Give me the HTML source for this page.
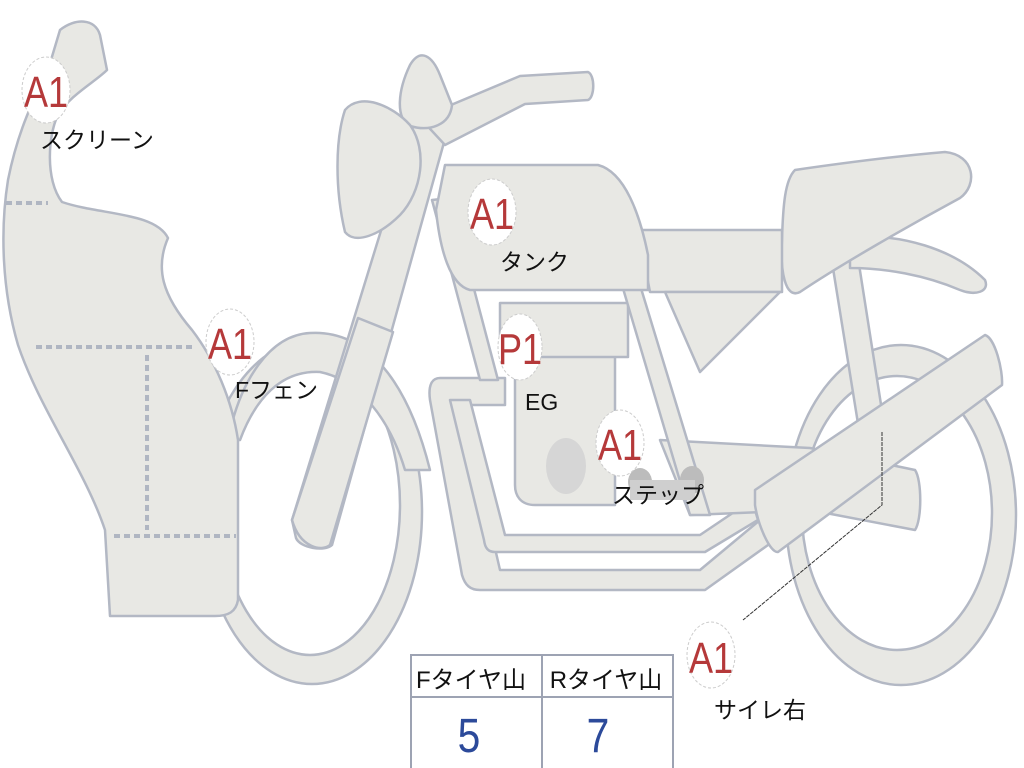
<!DOCTYPE html>
<html><head><meta charset="utf-8"><style>
html,body{margin:0;padding:0;background:#fff;width:1024px;height:768px;overflow:hidden}
svg{display:block}
.s{fill:#e8e8e4;stroke:#b3b8c4;stroke-width:2.5;stroke-linejoin:round}
.d{stroke:#b0b6c2;stroke-width:4;stroke-dasharray:6 4;fill:none}
.c{fill:#fff;stroke:#ccc;stroke-width:1;stroke-dasharray:3 2}
.a{font-family:"Liberation Sans",sans-serif;font-size:44px;fill:#b5393a;text-anchor:middle}
.l{font-family:"Liberation Sans","Noto Sans CJK JP",sans-serif;font-size:23px;fill:#111}
.h{font-family:"Liberation Sans","Noto Sans CJK JP",sans-serif;font-size:24px;fill:#111;text-anchor:middle}
.n{font-family:"Liberation Sans",sans-serif;font-size:48px;fill:#2c4a9a;text-anchor:middle}
</style></head><body>
<svg width="1024" height="768" viewBox="0 0 1024 768">
<ellipse class="s" cx="901" cy="515" rx="115" ry="170"/>
<ellipse cx="897" cy="513" rx="95" ry="137" fill="#fff" stroke="#b3b8c4" stroke-width="2.5"/>
<ellipse class="s" cx="312" cy="512" rx="110" ry="172"/>
<ellipse cx="310" cy="505" rx="90" ry="150" fill="#fff" stroke="#b3b8c4" stroke-width="2.5"/>
<path class="s" d="M228,440 C240,380 270,335 310,333 C360,330 405,370 430,470 L405,470 C390,420 360,380 320,372 C280,370 255,400 240,440 Z"/>
<path class="s" d="M832,262 L858,258 L885,430 L860,436 Z"/>
<path class="s" d="M850,238 C900,232 955,250 985,280 C990,292 975,296 960,290 C925,275 885,268 850,268 Z"/>
<path class="s" d="M795,170 C850,162 910,155 945,152 C975,155 978,185 960,198 C910,225 840,265 800,292 C785,300 780,270 782,240 C783,205 785,180 795,170 Z"/>
<path class="s" d="M638,230 L782,230 L782,292 L650,292 Z"/>
<path class="s" d="M665,292 L780,292 L700,372 Z"/>
<path class="s" d="M440,378 L505,378 L505,405 L462,405 L500,570 L700,570 L760,520 L775,540 L705,590 L480,590 C470,590 465,585 462,575 L430,400 C428,385 432,378 440,378 Z"/>
<path class="s" d="M450,400 L470,400 L505,535 L700,535 L752,500 L758,520 L705,552 L495,552 C488,552 485,548 484,540 Z"/>
<path class="s" d="M660,440 L810,448 L915,470 C922,480 922,520 915,530 L810,510 L690,515 Z"/>
<path class="s" d="M515,355 L615,355 L615,505 L535,505 C520,505 515,495 515,485 Z"/>
<path class="s" d="M500,303 L628,303 L628,357 L500,357 Z"/>
<ellipse cx="566" cy="466" rx="20" ry="28" fill="#d6d6d6"/>
<path class="s" d="M432,200 L450,198 L498,380 L480,380 Z"/>
<path class="s" d="M622,285 L640,285 L710,515 L690,515 Z"/>
<path class="s" d="M445,165 L598,165 C625,172 640,215 648,255 L648,290 L470,290 C450,285 440,250 436,210 Z"/>
<path class="s" d="M415,120 L448,128 L332,545 C325,552 300,548 296,538 L292,520 Z"/>
<path class="s" d="M358,318 L393,332 L330,545 C322,552 300,548 292,520 Z"/>
<path class="s" d="M420,118 L520,76 L588,72 C595,75 595,97 588,100 L525,104 L445,145 Z"/>
<path class="s" d="M410,65 C420,48 432,55 440,75 L452,105 C450,125 430,132 410,126 C395,118 398,90 410,65 Z"/>
<path class="s" d="M345,110 C360,92 392,105 410,125 C428,150 422,192 400,215 C380,235 355,245 345,232 C335,190 335,140 345,110 Z"/>
<path class="s" d="M755,490 L985,335 C995,338 1003,370 1002,385 L778,552 C770,553 758,525 755,505 Z"/>
<path class="s" d="M60,30 C75,18 95,18 100,35 L107,70 C95,82 70,95 58,115 C48,135 45,180 62,202 C100,215 155,212 168,238 C155,268 162,295 192,330 C215,360 232,400 238,440 L238,600 C236,612 228,616 215,616 L110,616 L105,530 C85,470 40,410 18,345 C2,290 0,230 8,180 C18,130 35,95 45,80 Z"/>
<line class="d" x1="6" y1="203" x2="48" y2="203"/>
<line class="d" x1="36" y1="347" x2="192" y2="347"/>
<line class="d" x1="147" y1="355" x2="147" y2="530"/>
<line class="d" x1="114" y1="536" x2="236" y2="536"/>
<ellipse cx="640" cy="482" rx="12" ry="14" fill="#bcbcbc"/>
<ellipse cx="692" cy="480" rx="12" ry="14" fill="#bcbcbc"/>
<rect x="630" y="480" width="65" height="20" fill="#cfcfcf"/>
<path d="M882,432 L882,505 L743,620" fill="none" stroke="#333" stroke-width="1" stroke-dasharray="4 1"/>
<ellipse class="c" cx="46" cy="90" rx="24" ry="33"/><text class="a" transform="translate(46,107) scale(0.82,1)">A1</text>
<text class="l" x="40" y="148">スクリーン</text>
<ellipse class="c" cx="492" cy="212" rx="24" ry="33"/><text class="a" transform="translate(492,229) scale(0.82,1)">A1</text>
<text class="l" x="500" y="270">タンク</text>
<ellipse class="c" cx="230" cy="342" rx="24" ry="33"/><text class="a" transform="translate(230,359) scale(0.82,1)">A1</text>
<text class="l" x="235" y="398">Fフェン</text>
<ellipse class="c" cx="520" cy="347" rx="22" ry="33"/><text class="a" transform="translate(520,364) scale(0.82,1)">P1</text>
<text class="l" x="525" y="410">EG</text>
<ellipse class="c" cx="620" cy="443" rx="24" ry="33"/><text class="a" transform="translate(620,460) scale(0.82,1)">A1</text>
<text class="l" x="612" y="503">ステップ</text>
<ellipse class="c" cx="711" cy="655" rx="24" ry="33"/><text class="a" transform="translate(711,673) scale(0.82,1)">A1</text>
<text class="l" x="714" y="718">サイレ右</text>
<rect x="411" y="655" width="262" height="115" fill="#fff" stroke="#9da3b3" stroke-width="2"/>
<line x1="411" y1="697" x2="673" y2="697" stroke="#9da3b3" stroke-width="2"/>
<line x1="542" y1="655" x2="542" y2="768" stroke="#9da3b3" stroke-width="2"/>
<text class="h" x="471" y="688">Fタイヤ山</text>
<text class="h" x="606" y="688">Rタイヤ山</text>
<text class="n" transform="translate(469,752) scale(0.85,1)">5</text>
<text class="n" transform="translate(598,752) scale(0.85,1)">7</text>
</svg>
</body></html>
